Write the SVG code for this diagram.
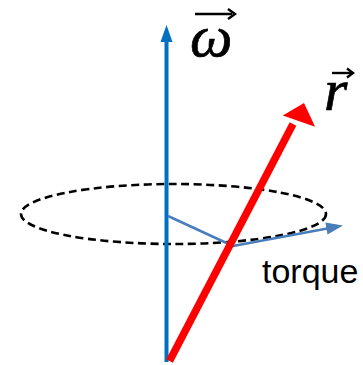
<svg xmlns="http://www.w3.org/2000/svg" width="363" height="365" viewBox="0 0 363 365">
  <style>
    .lbl { font-family: "Liberation Serif", "DejaVu Serif", serif; font-style: italic; fill: #000; stroke: #000; stroke-width: 0.7; }
    .vecbar { stroke: #000; stroke-width: 2.4; fill: none; stroke-linecap: butt; }
    .sans { font-family: "Liberation Sans", Arial, sans-serif; fill: #000; }
  </style>
  <rect width="363" height="365" fill="#fff"/>
  <g id="orbit">
    <ellipse cx="173.5" cy="214" rx="152.5" ry="30" fill="none" stroke="#000" stroke-width="2.6" stroke-dasharray="8,4.5"/>
  </g>
  <g id="connectors">
    <g id="omega-axis">
      <line x1="166.5" y1="362" x2="166.5" y2="40" stroke="#0070C0" stroke-width="4"/>
      <polygon points="166.5,25 172.5,42 160.5,42" fill="#0070C0"/>
    </g>
    <g id="torque-vector">
      <polyline points="168,216 233,246 330,228" fill="none" stroke="#4A7EBB" stroke-width="2.5" stroke-linejoin="round"/>
      <polygon points="343,225.5 327.5,234.5 325.4,222.5" fill="#4A7EBB"/>
    </g>
    <g id="r-vector">
      <line x1="169.5" y1="361" x2="293" y2="124" stroke="#FF0000" stroke-width="7.5"/>
      <polygon points="304,103 315.1,126.8 282.8,115.5" fill="#FF0000"/>
    </g>
  </g>
  <g id="omega-label">
    <text class="lbl" x="190" y="56" font-size="60">ω</text>
    <line class="vecbar" x1="195" y1="14" x2="232" y2="14"/>
    <polyline class="vecbar" points="228,9 235,14 228,19"/>
  </g>
  <g id="r-label">
    <text class="lbl" x="324" y="110" font-size="60">r</text>
    <line class="vecbar" x1="332" y1="73" x2="351" y2="73"/>
    <polyline class="vecbar" points="347,68.5 353,73 347,77.5"/>
  </g>
  <g id="torque-label">
    <text class="sans" x="262" y="283" font-size="34">torque</text>
  </g>
</svg>
